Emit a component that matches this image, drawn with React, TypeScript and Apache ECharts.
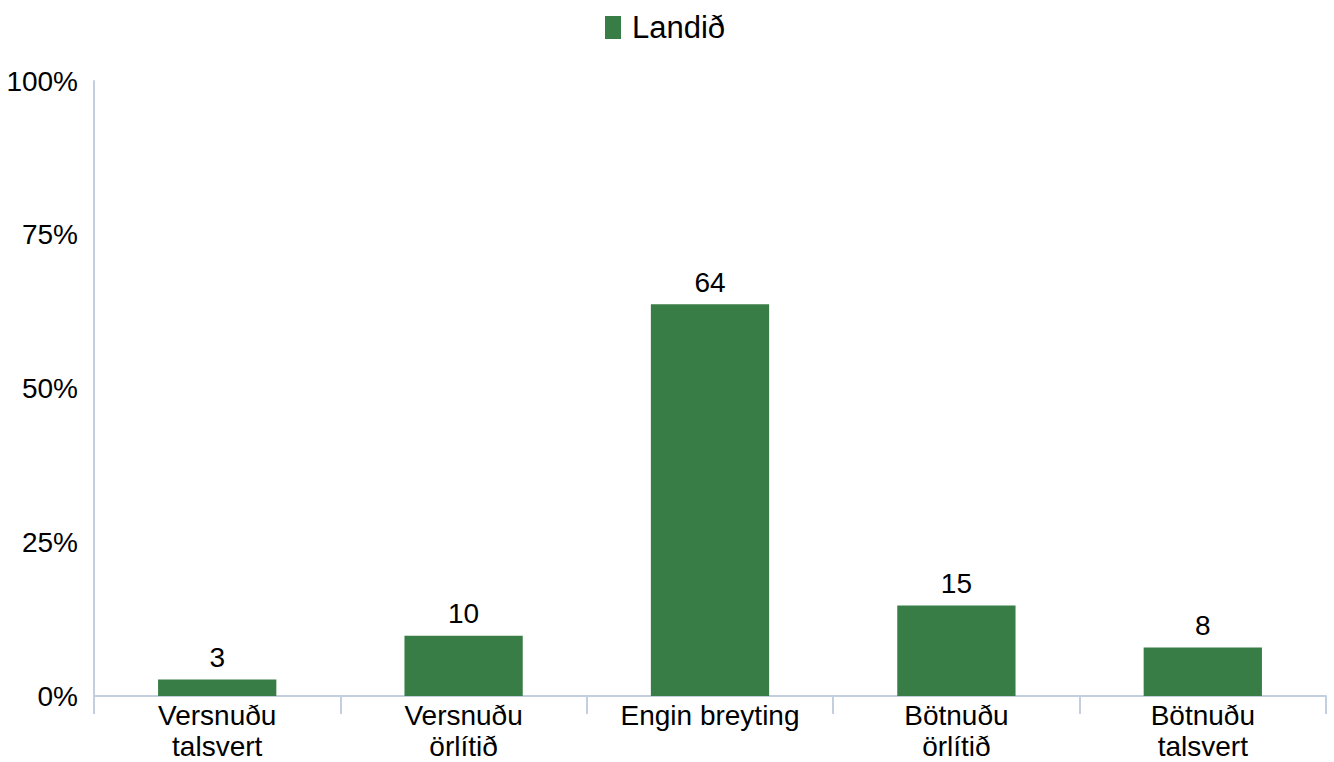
import React, { useEffect, useRef } from "react";
import * as echarts from "echarts";

const categories = ["Versnuðu\ntalsvert", "Versnuðu\nörlítið", "Engin breyting", "Bötnuðu\nörlítið", "Bötnuðu\ntalsvert"];
const values = [2.7, 9.8, 63.7, 14.7, 7.9];
const seriesName = "Landið";
const yTicks = [0, 25, 50, 75, 100];

const FONT = "'Liberation Sans', Arial, sans-serif";
const GREEN = "#387D45";
const AXIS = "#C3CFDF";

export default function App() {
  const ref = useRef<HTMLDivElement>(null);
  useEffect(() => {
    if (!ref.current) return;
    const chart = echarts.init(ref.current, undefined, { renderer: "svg" });
    chart.setOption({
      animation: false,
      textStyle: { fontFamily: FONT },
      legend: {
        data: [seriesName],
        top: 7,
        left: 600,
        itemWidth: 16,
        itemHeight: 23,
        itemGap: 10,
        icon: "rect",
        textStyle: { fontSize: 31, color: "#000", fontFamily: FONT, padding: [0, 0, 0, 6] },
      },
      grid: { left: 94, right: 8, top: 81, bottom: 62, containLabel: false },
      xAxis: {
        type: "category",
        data: categories,
        axisLine: { lineStyle: { color: AXIS, width: 2 } },
        axisTick: { show: true, length: 18, lineStyle: { color: AXIS, width: 2 } },
        axisLabel: { fontSize: 28, color: "#000", margin: 4, lineHeight: 31, fontFamily: FONT, interval: 0 },
      },
      yAxis: {
        type: "value",
        min: 0,
        max: 100,
        interval: 25,
        splitLine: { show: false },
        axisLine: { show: true, lineStyle: { color: AXIS, width: 2 } },
        axisTick: { show: false },
        axisLabel: {
          fontSize: 28,
          color: "#000",
          margin: 16,
          fontFamily: FONT,
          formatter: (v: number) => (yTicks.includes(v) ? v + "%" : ""),
        },
      },
      series: [
        {
          name: seriesName,
          type: "bar",
          data: values,
          barWidth: "48%",
          itemStyle: { color: GREEN },
          label: {
            show: true,
            position: "top",
            distance: 8,
            fontSize: 28,
            color: "#000",
            fontFamily: FONT,
            formatter: (p: any) => String(Math.round(p.value)),
          },
        },
      ],
    });
    return () => chart.dispose();
  }, []);
  return <div ref={ref} style={{ width: 1334, height: 762, position: "absolute", left: 0, top: 0 }} />;
}
